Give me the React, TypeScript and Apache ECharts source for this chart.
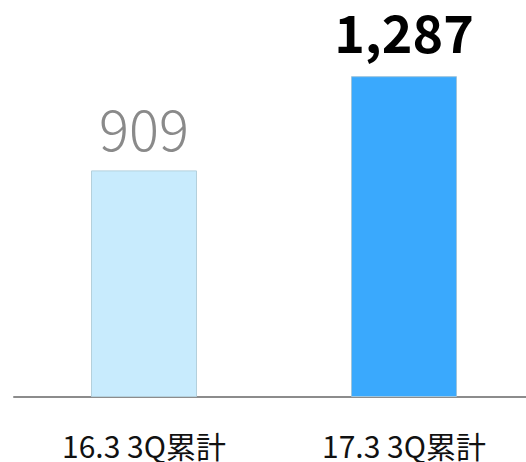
import React, { useEffect, useRef } from "react";
import * as echarts from "echarts";

const categories = ["16.3 3Q累計", "17.3 3Q累計"];
const values = [909, 1287];
const barColors = ["#c8ebfd", "#3aa9fd"];
const borderColors = ["#b4d0dc", "#9ec4dc"];
const labelColors = ["#8a8a8a", "#000000"];
const labelWeights = [300, "bold"];
const labelSizes = [56, 52];
const labelLineHeights = [46, 44];
const labelDistances = [21, 24];

export default function App() {
  const ref = useRef<HTMLDivElement>(null);
  useEffect(() => {
    document.body.style.margin = "0";
    const chart = echarts.init(ref.current!, null, { renderer: "svg" });
    const font = "'Noto Sans CJK JP', 'Noto Sans', sans-serif";
    chart.setOption({
      animation: false,
      grid: { left: 14, width: 520, top: 48, bottom: 65, containLabel: false, outerBoundsMode: "none" },
      xAxis: {
        type: "category",
        data: categories,
        axisLine: { show: true, lineStyle: { color: "#8c8c8c", width: 2 } },
        axisTick: { show: false },
        axisLabel: { color: "#111", fontSize: 30, lineHeight: 26, fontFamily: font, margin: 35 },
      },
      yAxis: {
        type: "value",
        min: 0,
        max: 1400,
        show: false,
        splitLine: { show: false },
      },
      series: [
        {
          type: "bar",
          barWidth: 106,
          data: values.map((v, i) => ({
            value: v,
            itemStyle: { color: barColors[i], borderColor: borderColors[i], borderWidth: 1 },
            label: {
              show: true,
              position: "top",
              distance: labelDistances[i],
              color: labelColors[i],
              fontWeight: labelWeights[i],
              fontSize: labelSizes[i],
              lineHeight: labelLineHeights[i],
              fontFamily: font,
              formatter: (p: any) => p.value.toLocaleString("en-US"),
            },
          })),
        },
      ],
    });
    return () => chart.dispose();
  }, []);
  return <div ref={ref} style={{ width: 526, height: 462, position: "absolute", left: 0, top: 0 }} />;
}
